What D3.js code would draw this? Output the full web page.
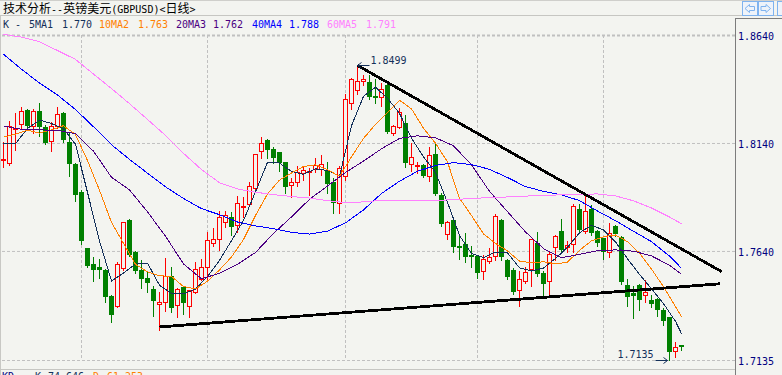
<!DOCTYPE html>
<html>
<head>
<meta charset="utf-8">
<script src="https://cdn.jsdelivr.net/npm/d3@7"></script>
<style>
html, body { margin: 0; padding: 0; background: #f3f4f0; }
svg { display: block; }
</style>
</head>
<body>
<div id="chart"></div>
<script>
// daily candles, GBPUSD (index 0 = oldest)
var opens = [1.8062,1.8049,1.8205,1.8227,1.8293,1.8220,1.8290,1.8213,1.8150,1.8219,
  1.8278,1.8145,1.8043,1.7915,1.7653,1.7581,1.7567,1.7553,1.7433,1.7383,
  1.7561,1.7781,1.7633,1.7550,1.7517,1.7466,1.7394,1.7403,1.7526,1.7391,
  1.7471,1.7383,1.7450,1.7511,1.7565,1.7676,1.7695,1.7772,1.7797,1.7761,
  1.7843,1.7858,1.7931,1.8105,1.8154,1.8113,1.8097,1.8051,1.7946,1.7957,
  1.8002,1.8005,1.8019,1.8019,1.8008,1.7961,1.7861,1.7988,1.8324,1.8386,
  1.8427,1.8421,1.8359,1.8355,1.8409,1.8185,1.8216,1.8231,1.8042,1.8033,
  1.8039,1.7989,1.8090,1.7900,1.7718,1.7784,1.7661,1.7673,1.7621,1.7618,
  1.7545,1.7594,1.7618,1.7784,1.7599,1.7553,1.7460,1.7503,1.7556,1.7679,
  1.7538,1.7503,1.7658,1.7733,1.7658,1.7672,1.7835,1.7733,1.7835,1.7733,
  1.7700,1.7633,1.7756,1.7704,1.7483,1.7445,1.7483,1.7437,1.7411,1.7419,
  1.7368,1.7332,1.7175,1.7203];
var highs = [1.8146,1.8242,1.8281,1.8306,1.8296,1.8296,1.8327,1.8224,1.8238,1.8306,
  1.8285,1.8185,1.8046,1.7923,1.7655,1.7613,1.7604,1.7556,1.7436,1.7587,
  1.7776,1.7790,1.7641,1.7596,1.7545,1.7479,1.7452,1.7607,1.7565,1.7470,
  1.7474,1.7460,1.7591,1.7604,1.7727,1.7746,1.7823,1.7823,1.7820,1.7895,
  1.7892,1.7960,1.8090,1.8167,1.8159,1.8123,1.8099,1.8053,1.7978,1.8034,
  1.8031,1.8023,1.8070,1.8085,1.8054,1.7978,1.8034,1.8366,1.8441,1.8499,
  1.8455,1.8455,1.8435,1.8419,1.8418,1.8224,1.8302,1.8270,1.8139,1.8054,
  1.8041,1.8123,1.8134,1.7909,1.7779,1.7786,1.7715,1.7723,1.7661,1.7620,
  1.7622,1.7653,1.7810,1.7786,1.7601,1.7563,1.7545,1.7565,1.7696,1.7730,
  1.7545,1.7635,1.7715,1.7787,1.7687,1.7858,1.7858,1.7900,1.7854,1.7736,
  1.7702,1.7769,1.7761,1.7707,1.7510,1.7479,1.7488,1.7507,1.7437,1.7422,
  1.7376,1.7335,1.7218,1.7205];
var lows = [1.8028,1.8039,1.8108,1.8204,1.8201,1.8185,1.8173,1.8135,1.8105,1.8208,
  1.8146,1.7989,1.7869,1.7673,1.7565,1.7499,1.7514,1.7402,1.7309,1.7380,
  1.7553,1.7618,1.7540,1.7468,1.7448,1.7337,1.7275,1.7360,1.7355,1.7334,
  1.7349,1.7334,1.7446,1.7507,1.7510,1.7661,1.7645,1.7753,1.7715,1.7727,
  1.7799,1.7853,1.7928,1.8070,1.8070,1.8046,1.8008,1.7910,1.7889,1.7941,
  1.7969,1.7900,1.8006,1.7992,1.7908,1.7818,1.7818,1.7969,1.8296,1.8367,
  1.8409,1.8344,1.8327,1.8312,1.8185,1.8177,1.8210,1.8031,1.8008,1.8000,
  1.7982,1.7965,1.7900,1.7756,1.7696,1.7633,1.7602,1.7587,1.7565,1.7517,
  1.7510,1.7584,1.7596,1.7599,1.7511,1.7442,1.7386,1.7493,1.7479,1.7525,
  1.7427,1.7429,1.7599,1.7637,1.7633,1.7633,1.7729,1.7723,1.7715,1.7664,
  1.7602,1.7612,1.7707,1.7488,1.7383,1.7329,1.7365,1.7402,1.7380,1.7340,
  1.7298,1.7135,1.7149,1.7180];
var closes = [1.8068,1.8220,1.8211,1.8288,1.8220,1.8288,1.8216,1.8139,1.8219,1.8273,
  1.8154,1.8043,1.7897,1.7684,1.7571,1.7553,1.7553,1.7425,1.7345,1.7581,
  1.7772,1.7622,1.7545,1.7511,1.7491,1.7406,1.7405,1.7526,1.7378,1.7465,
  1.7399,1.7457,1.7556,1.7565,1.7692,1.7695,1.7797,1.7807,1.7753,1.7864,
  1.7849,1.7941,1.8088,1.8139,1.8108,1.8070,1.8049,1.7935,1.7961,1.8006,
  1.8015,1.8011,1.8039,1.8042,1.7951,1.7861,1.8023,1.8343,1.8435,1.8427,
  1.8434,1.8355,1.8352,1.8389,1.8193,1.8219,1.8285,1.8049,1.8074,1.8037,
  1.7989,1.8082,1.7903,1.7766,1.7776,1.7656,1.7655,1.7610,1.7614,1.7540,
  1.7602,1.7614,1.7803,1.7614,1.7519,1.7452,1.7510,1.7542,1.7695,1.7534,
  1.7488,1.7627,1.7707,1.7645,1.7668,1.7849,1.7738,1.7823,1.7725,1.7676,
  1.7633,1.7725,1.7718,1.7494,1.7429,1.7433,1.7411,1.7452,1.7396,1.7365,
  1.7317,1.7170,1.7195,1.7195];

// moving averages: [candle index, value]
var ma5 = [[0,1.8139],[2,1.8137],[4,1.8207],[6,1.8246],[8,1.8230],[10,1.8206],[12,1.8134],[14,1.7911],
  [16,1.7686],[18,1.7501],[20,1.7538],[22,1.7579],[24,1.7584],[26,1.7481],[28,1.7444],[30,1.7441],
  [32,1.7463],[34,1.7522],[36,1.7596],[38,1.7688],[40,1.7781],[42,1.7914],[44,1.8050],[46,1.8047],
  [48,1.8008],[50,1.7995],[52,1.8020],[54,1.8013],[56,1.7986],[58,1.8220],[60,1.8356],[62,1.8398],
  [64,1.8347],[66,1.8277],[68,1.8162],[70,1.8076],[72,1.8004],[74,1.7865],[76,1.7712],[78,1.7628],
  [80,1.7609],[82,1.7635],[84,1.7631],[86,1.7562],[88,1.7547],[90,1.7561],[92,1.7605],[94,1.7657],
  [96,1.7724],[98,1.7759],[100,1.7737],[102,1.7682],[104,1.7604],[106,1.7531],[108,1.7465],[110,1.7396],
  [112,1.7314],[113,1.7257]];
var ma10 = [[0,1.8167],[2,1.8181],[4,1.8199],[6,1.8186],[8,1.8201],[10,1.8220],[12,1.8179],[14,1.8059],
  [16,1.7921],[18,1.7772],[20,1.7675],[22,1.7578],[24,1.7543],[26,1.7525],[28,1.7522],[30,1.7475],
  [32,1.7464],[34,1.7500],[36,1.7552],[38,1.7612],[40,1.7693],[42,1.7804],[44,1.7904],[46,1.7968],
  [48,1.8001],[50,1.8031],[52,1.8039],[54,1.8016],[56,1.7986],[58,1.8076],[60,1.8161],[62,1.8226],
  [64,1.8280],[66,1.8338],[68,1.8298],[70,1.8208],[72,1.8139],[74,1.8052],[76,1.7884],[78,1.7804],
  [80,1.7719],[82,1.7675],[84,1.7640],[86,1.7593],[88,1.7585],[90,1.7590],[92,1.7580],[94,1.7588],
  [96,1.7643],[98,1.7687],[100,1.7706],[102,1.7714],[104,1.7683],[106,1.7630],[108,1.7556],[110,1.7474],
  [112,1.7382],[113,1.7335]];
var ma20 = [[0,1.8219],[3,1.8203],[6,1.8201],[9,1.8198],[12,1.8183],[15,1.8102],[18,1.7981],[21,1.7923],
  [24,1.7821],[27,1.7708],[30,1.7580],[33,1.7511],[36,1.7537],[39,1.7578],[42,1.7633],[45,1.7721],
  [48,1.7798],[51,1.7879],[54,1.7941],[57,1.8003],[60,1.8056],[63,1.8113],[66,1.8161],[69,1.8173],
  [72,1.8164],[75,1.8127],[78,1.8039],[81,1.7916],[84,1.7822],[87,1.7728],[90,1.7651],[93,1.7609],
  [96,1.7624],[99,1.7641],[102,1.7645],[105,1.7639],[108,1.7617],[111,1.7574],[113,1.7532]];
var ma40 = [[0,1.8551],[3,1.8481],[6,1.8418],[9,1.8362],[12,1.8295],[15,1.8215],[18,1.8132],[21,1.8064],
  [24,1.8000],[27,1.7937],[30,1.7883],[33,1.7836],[36,1.7808],[39,1.7774],[42,1.7756],[45,1.7743],
  [48,1.7726],[51,1.7718],[54,1.7732],[57,1.7770],[60,1.7830],[63,1.7906],[66,1.7963],[69,1.8009],
  [72,1.8036],[75,1.8049],[78,1.8040],[81,1.8018],[84,1.7980],[87,1.7938],[90,1.7916],[93,1.7900],
  [96,1.7873],[99,1.7825],[102,1.7780],[105,1.7731],[108,1.7683],[111,1.7616],[113,1.7560]];
var ma60 = [[0,1.8643],[3,1.8630],[6,1.8609],[9,1.8568],[12,1.8527],[15,1.8459],[18,1.8392],[21,1.8322],
  [24,1.8249],[27,1.8175],[30,1.8092],[33,1.8017],[36,1.7956],[39,1.7927],[42,1.7912],[45,1.7901],
  [48,1.7892],[51,1.7885],[54,1.7873],[57,1.7864],[60,1.7867],[63,1.7874],[66,1.7875],[69,1.7874],
  [72,1.7873],[75,1.7878],[78,1.7883],[81,1.7887],[84,1.7890],[87,1.7894],[90,1.7897],[93,1.7900],
  [96,1.7902],[99,1.7904],[102,1.7895],[105,1.7872],[108,1.7839],[111,1.7797],[113,1.7766]];

// hand drawn trend lines: [candle index, price]
var trendUpper = [[59,1.8499],[119.7,1.7544]];
var trendLower = [[26,1.7288],[119.4,1.7488]];

var priceTicks = [1.8640, 1.8140, 1.7640, 1.7135];
var monthIdx = [13, 34, 57, 79, 100];
var maNames = ["5MA1", "10MA2", "20MA3", "40MA4", "60MA5"];
var maLast = ["1.770", "1.763", "1.762", "1.788", "1.791"];
var maColors = ["#14305a", "#ff8000", "#4b0082", "#0000ff", "#ff80ff"];
var kdLabels = ["KD", "K", "74.646", "D", "61.253"];

var W = 782, H = 375;
var axisX = 735;
var bg = "#f3f4f0";
var mono = "'DejaVu Sans Mono', 'Liberation Mono', monospace";

var svg = d3.select("#chart").append("svg")
    .attr("width", W).attr("height", H)
    .style("background", bg);

var x = d3.scaleLinear().domain([0, 113]).range([3.5, 681.5]);
var y = d3.scaleLinear().domain([1.7135, 1.8640]).range([360, 35]);

// frame lines
svg.append("line").attr("x1", 0).attr("x2", W).attr("y1", 0.5).attr("y2", 0.5)
    .attr("stroke", "#cfcfcb");
svg.append("line").attr("x1", 0).attr("x2", W).attr("y1", 15.5).attr("y2", 15.5)
    .attr("stroke", "#c6c6c2");
svg.append("line").attr("x1", 0.5).attr("x2", 0.5).attr("y1", 16).attr("y2", H)
    .attr("stroke", "#c8c8c4");
svg.append("line").attr("x1", 0).attr("x2", axisX).attr("y1", 369.5).attr("y2", 369.5)
    .attr("stroke", "#c6c6c2");

// title
var title = svg.append("text").attr("x", 3).attr("y", 13).attr("fill", "#000");
Array.from("技术分析--英镑美元(GBPUSD)<日线>").forEach(function(ch) {
    var ascii = ch.charCodeAt(0) < 128;
    title.append("tspan")
        .style("font-family", ascii ? mono : "'Noto Sans CJK SC'")
        .style("font-size", ascii ? "10px" : "12px")
        .text(ch);
});

// top-right buttons
function arrowBtn(bx, dir) {
    var g = svg.append("g").attr("transform", "translate(" + bx + ",1)");
    g.append("rect").attr("x", 0.5).attr("y", 0.5).attr("width", 15).attr("height", 14)
        .attr("fill", "#eef3fa").attr("stroke", "#7fb3ef");
    var pts = dir < 0
        ? "3,7.5 7.5,3.5 7.5,5.5 12.5,5.5 12.5,9.5 7.5,9.5 7.5,11.5"
        : "12.5,7.5 8,3.5 8,5.5 3,5.5 3,9.5 8,9.5 8,11.5";
    g.append("polygon").attr("points", pts).attr("fill", "none").attr("stroke", "#7fb3ef");
}
arrowBtn(742, -1);
arrowBtn(758, 1);
svg.append("rect").attr("x", 777.5).attr("y", 1.5).attr("width", 15).attr("height", 14)
    .attr("fill", "#eef3fa").attr("stroke", "#7fb3ef");

// legend row
var legX = [29, 99, 176, 252, 327];
var legVX = [62, 138, 213, 289, 366];
var leg = svg.append("g").style("font-family", mono).style("font-size", "10px");
leg.append("text").attr("x", 3).attr("y", 27.5).attr("fill", maColors[0]).text("K -");
maNames.forEach(function(n, k) {
    leg.append("text").attr("x", legX[k]).attr("y", 27.5).attr("fill", maColors[k]).text(n);
    leg.append("text").attr("x", legVX[k]).attr("y", 27.5).attr("fill", maColors[k]).text(maLast[k]);
});

// horizontal grid + right axis
var yAxis = d3.axisRight(y).tickValues(priceTicks)
    .tickSize(-axisX).tickPadding(3).tickFormat(d3.format(".4f"));
var ag = svg.append("g").attr("transform", "translate(" + axisX + ",0)").call(yAxis);
ag.select(".domain").remove();
ag.selectAll(".tick line")
    .attr("stroke", "#c0c0c0")
    .attr("stroke-dasharray", "3,2")
    .attr("stroke-width", function(d, i) { return i == 0 ? 2 : 1; });
ag.selectAll(".tick text")
    .attr("fill", "#000080")
    .attr("dy", "0.46em")
    .style("font-family", mono)
    .style("font-size", "10px");

// vertical month lines
svg.append("g").selectAll("line").data(monthIdx).enter().append("line")
    .attr("x1", function(d) { return x(d); })
    .attr("x2", function(d) { return x(d); })
    .attr("y1", 35).attr("y2", 360)
    .attr("stroke", "#c0c0c0").attr("stroke-dasharray", "3,2");

// axis border
svg.append("line").attr("x1", axisX + 0.5).attr("x2", axisX + 0.5).attr("y1", 18).attr("y2", H)
    .attr("stroke", "#7c7c7c").attr("stroke-width", 1);
svg.append("line").attr("x1", axisX).attr("x2", W).attr("y1", 18.5).attr("y2", 18.5)
    .attr("stroke", "#7c7c7c");

// candles
var candles = d3.range(opens.length).map(function(i) {
    return {i: i, o: opens[i], h: highs[i], l: lows[i], c: closes[i]};
});
var cg = svg.append("g");
var cnd = cg.selectAll("g").data(candles).enter().append("g");
cnd.append("line")
    .attr("x1", function(d) { return x(d.i); })
    .attr("x2", function(d) { return x(d.i); })
    .attr("y1", function(d) { return Math.round(y(d.h)); })
    .attr("y2", function(d) { return Math.round(y(d.l)) + 1; })
    .attr("stroke", function(d) { return d.c >= d.o ? "#ff0000" : "#008000"; });
cnd.append("rect")
    .attr("x", function(d) { return d.c >= d.o ? x(d.i) - 2 : x(d.i) - 2.5; })
    .attr("y", function(d) {
        var t = Math.round(y(Math.max(d.o, d.c)));
        return d.c >= d.o ? t + 0.5 : t;
    })
    .attr("width", function(d) { return d.c >= d.o ? 4 : 5; })
    .attr("height", function(d) {
        var t = Math.round(y(Math.max(d.o, d.c))), b = Math.round(y(Math.min(d.o, d.c)));
        return Math.max(b - t, d.c >= d.o ? 1 : 2);
    })
    .attr("fill", function(d) { return d.c >= d.o ? bg : "#008000"; })
    .attr("stroke", function(d) { return d.c >= d.o ? "#ff0000" : "none"; });

// moving averages
var line = d3.line()
    .x(function(d) { return x(d[0]); })
    .y(function(d) { return y(d[1]); });
[ma5, ma10, ma20, ma40, ma60].forEach(function(s, k) {
    svg.append("path").datum(s)
        .attr("d", line)
        .attr("fill", "none")
        .attr("stroke", maColors[k])
        .attr("stroke-width", 1)
        .attr("shape-rendering", "crispEdges");
});

// trend lines
[trendUpper, trendLower].forEach(function(t) {
    svg.append("path").datum(t)
        .attr("d", line)
        .attr("fill", "none")
        .attr("stroke", "#000")
        .attr("stroke-width", 2.8)
        .attr("shape-rendering", "crispEdges");
});

// high / low markers
var hiI = d3.maxIndex(highs), loI = d3.minIndex(lows);
var navy = "#14305a";
var hx = x(hiI), hy = Math.round(y(highs[hiI])) + 0.5;
svg.append("path")
    .attr("d", "M" + (hx + 12) + "," + hy + "H" + hx + "M" + (hx + 4) + "," + (hy - 3) + "L" + hx + "," + hy + "L" + (hx + 4) + "," + (hy + 3))
    .attr("fill", "none").attr("stroke", navy);
svg.append("text").attr("x", hx + 13).attr("y", hy - 2)
    .attr("fill", navy).style("font-family", mono).style("font-size", "10px")
    .text(d3.format(".4f")(highs[hiI]));
var lx = x(loI) - 2, ly = Math.round(y(lows[loI])) + 0.5;
svg.append("path")
    .attr("d", "M" + (lx - 12) + "," + ly + "H" + lx + "M" + (lx - 4) + "," + (ly - 3) + "L" + lx + "," + ly + "L" + (lx - 4) + "," + (ly + 3))
    .attr("fill", "none").attr("stroke", navy);
svg.append("text").attr("x", lx - 14).attr("y", ly - 3).attr("text-anchor", "end")
    .attr("fill", navy).style("font-family", mono).style("font-size", "10px")
    .text(d3.format(".4f")(lows[loI]));

// KD row (the reference shows only the top of it)
var kdX = [2, 35, 48, 93, 107];
var kdC = ["#000080", navy, navy, "#ff8000", "#ff8000"];
kdLabels.forEach(function(t, k) {
    svg.append("text").attr("x", kdX[k]).attr("y", 380)
        .attr("fill", kdC[k]).style("font-family", mono).style("font-size", "10px").text(t);
});
</script>
</body>
</html>
